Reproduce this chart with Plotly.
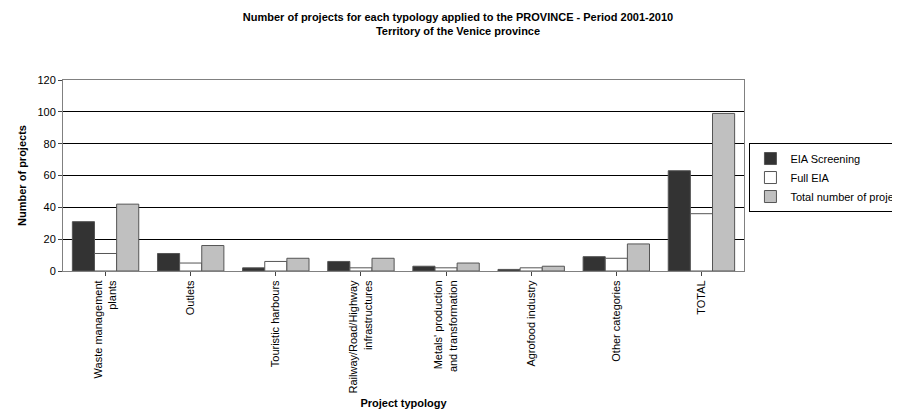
import plotly.graph_objects as go

categories = ["Waste management<br>plants", "Outlets", "Touristic harbours",
              "Railway/Road/Highway<br>infrastructures", "Metals' production<br>and transformation",
              "Agrofood industry", "Other categories", "TOTAL"]
eia_screening = [31, 11, 2, 6, 3, 1, 9, 63]
full_eia = [11, 5, 6, 2, 2, 2, 8, 36]
total_projects = [42, 16, 8, 8, 5, 3, 17, 99]

fig = go.Figure()
line = dict(color="#555555", width=1)
fig.add_trace(go.Bar(x=categories, y=eia_screening, name="EIA Screening",
                     marker=dict(color="#333333", line=line)))
fig.add_trace(go.Bar(x=categories, y=full_eia, name="Full EIA",
                     marker=dict(color="white", line=line)))
fig.add_trace(go.Bar(x=categories, y=total_projects, name="Total number of projects",
                     marker=dict(color="#c0c0c0", line=line)))

fig.update_layout(
    width=900, height=417,
    font=dict(family="Liberation Sans, Arial", size=11, color="black"),
    title=dict(text="<b>Number of projects for each typology applied to the PROVINCE - Period 2001-2010<br>Territory of the Venice province</b>",
               x=0.5, xanchor="center", y=0.97, yanchor="top", font=dict(size=11)),
    paper_bgcolor="white", plot_bgcolor="white",
    margin=dict(l=55, r=164, t=72, b=154, autoexpand=False),
    barmode="group", bargap=0.22, bargroupgap=0,
    legend=dict(x=1.008, y=0.67, xanchor="left", yanchor="top",
                bordercolor="black", borderwidth=1, font=dict(size=11),
                tracegroupgap=0, itemwidth=30),
    showlegend=True,
)
fig.update_xaxes(tickangle=-90, showline=True, linecolor="#808080", mirror=True,
                 ticks="outside", ticklen=4, automargin=False,
                 title=dict(text="<b>Project typology</b>", font=dict(size=11), standoff=6))
fig.update_yaxes(range=[0, 120], dtick=20, showline=True, linecolor="#808080", mirror=True,
                 gridcolor="black", gridwidth=1, ticks="outside", ticklen=4, automargin=False,
                 title=dict(text="<b>Number of projects</b>", font=dict(size=11), standoff=8))

fig.write_html("out.html")
